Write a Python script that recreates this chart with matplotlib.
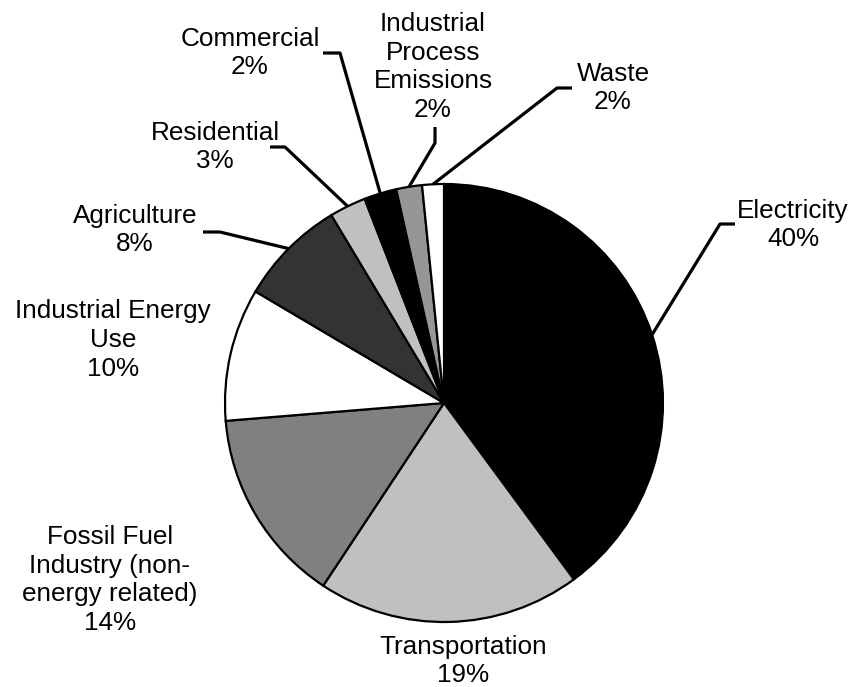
import matplotlib.pyplot as plt
import numpy as np

# emissions share by sector
sectors = ['Electricity', 'Transportation', 'Fossil Fuel\nIndustry (non-\nenergy related)',
           'Industrial Energy\nUse', 'Agriculture', 'Residential', 'Commercial',
           'Industrial\nProcess\nEmissions', 'Waste']
shares = [39.9, 19.4, 14.4, 9.8, 7.9, 2.7, 2.4, 1.9, 1.6]
colors = ['#000000', '#c0c0c0', '#808080', '#ffffff', '#333333',
          '#c0c0c0', '#000000', '#969696', '#ffffff']

W, H = 853, 687
# label centres and leader elbows, in pixels from the top-left
label_pos = [(793, 225), (463, 661), (110, 580), (113, 340), (135, 230),
             (215, 147), (250, 53), (433, 67), (613, 88)]
leaders = [[(720, 224), (735, 224)], None, None, None,
           [(220, 232), (203, 232)], [(285, 147), (270, 147)],
           [(340, 53), (323, 53)], [(435, 143), (435, 127)],
           [(557, 88), (572, 88)]]

plt.rcParams['font.family'] = ['Liberation Sans', 'DejaVu Sans']

fig = plt.figure(figsize=(W / 100, H / 100), dpi=100)
ax = fig.add_axes([0, 0, 1, 1])
cx, cy, r = 444, H - 403, 219
wedges, _ = ax.pie(shares, colors=colors, startangle=90, counterclock=False,
                   center=(cx, cy), radius=r,
                   wedgeprops=dict(edgecolor='black', linewidth=1.6))
ax.set_xlim(0, W)
ax.set_ylim(0, H)
ax.set_aspect('equal')
ax.axis('off')

total = sum(shares)
for w, name, val, (tx, ty), path in zip(wedges, sectors, shares, label_pos, leaders):
    ax.text(tx, H - ty, '%s\n%.0f%%' % (name, val / total * 100),
            ha='center', va='center', fontsize=18.8, linespacing=1.25)
    if path is None:
        continue
    mid = np.deg2rad((w.theta1 + w.theta2) / 2)
    xs = [cx + r * np.cos(mid)] + [p[0] for p in path]
    ys = [cy + r * np.sin(mid)] + [H - p[1] for p in path]
    ax.plot(xs, ys, color='black', lw=2.3, solid_capstyle='butt', zorder=3)

fig.savefig('out.png', dpi=100)
